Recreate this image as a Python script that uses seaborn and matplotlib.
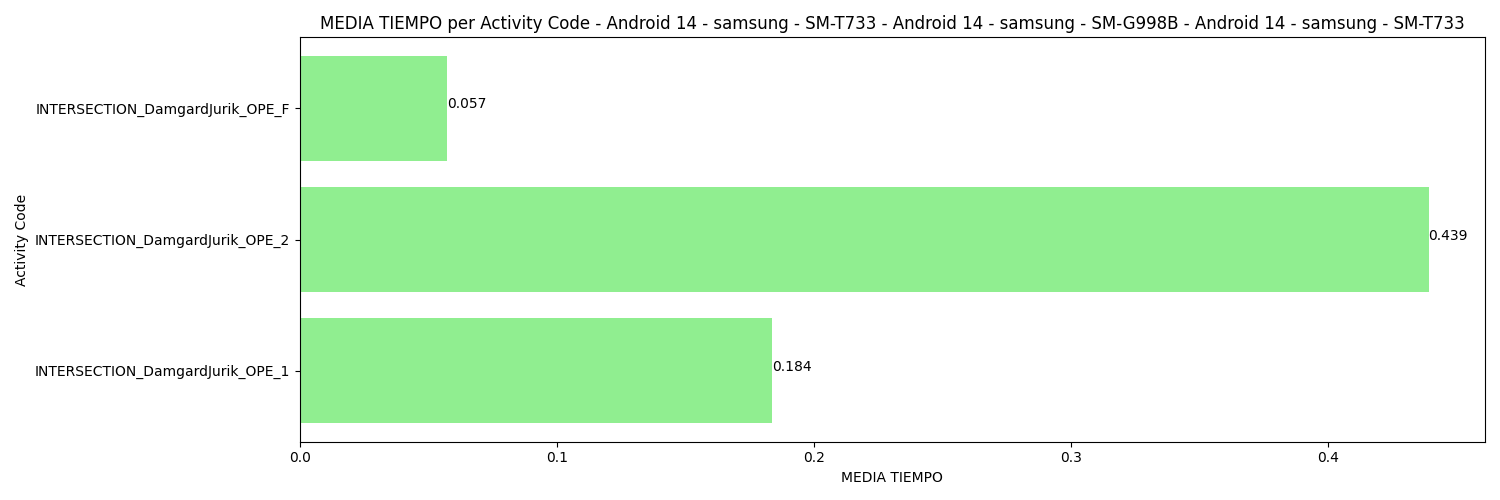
import matplotlib
matplotlib.use("Agg")
import matplotlib.pyplot as plt
import seaborn as sns
import pandas as pd

activity_codes = [
    "INTERSECTION_DamgardJurik_OPE_F",
    "INTERSECTION_DamgardJurik_OPE_2",
    "INTERSECTION_DamgardJurik_OPE_1",
]
media_tiempo = [0.0573, 0.4393, 0.1838]

title = ("MEDIA TIEMPO per Activity Code - Android 14 - samsung - SM-T733 - "
         "Android 14 - samsung - SM-G998B - Android 14 - samsung - SM-T733")

df = pd.DataFrame({"Activity Code": activity_codes, "MEDIA TIEMPO": media_tiempo})

fig, ax = plt.subplots(figsize=(15, 5), dpi=100)
sns.barplot(data=df, x="MEDIA TIEMPO", y="Activity Code", orient="h",
            color="lightgreen", saturation=1, width=0.8, ax=ax)

# value labels at bar ends
for i, v in enumerate(df["MEDIA TIEMPO"]):
    ax.text(v, i, f"{v:.3f}", ha="left", va="baseline", fontsize=10)

ax.set_ylim(len(df) - 1 + 0.54, -0.54)
ax.set_xlim(0, max(media_tiempo) * 1.05)
ax.set_title(title, fontsize=12)
ax.set_xlabel("MEDIA TIEMPO")
ax.set_ylabel("Activity Code")

plt.tight_layout()
plt.savefig("out.png")
